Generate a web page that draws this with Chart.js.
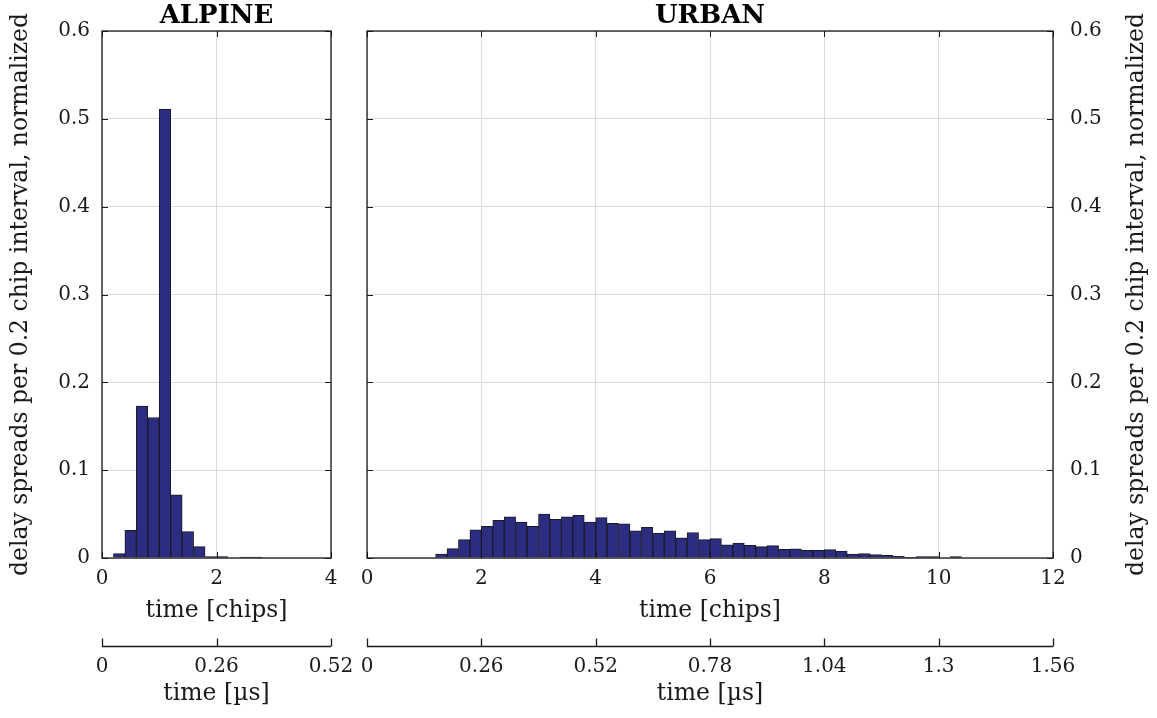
<!DOCTYPE html>
<html>
<head>
<meta charset="utf-8">
<script src="https://cdn.jsdelivr.net/npm/chart.js@4"></script>
<style>
  html, body { margin: 0; padding: 0; background: #ffffff; }
  #wrap { position: relative; width: 1157px; height: 718px; overflow: hidden; }
  canvas { position: absolute; left: 0; top: 0; }
</style>
</head>
<body>
<div id="wrap">
  <canvas id="alpine" width="1157" height="718"></canvas>
  <canvas id="urban" width="1157" height="718"></canvas>
</div>
<script>
// ---------------- DATA ----------------
const yTitle = 'delay spreads per 0.2 chip interval, normalized';
const yTicks = [0, 0.1, 0.2, 0.3, 0.4, 0.5, 0.6];
const yTickLabels = ['0', '0.1', '0.2', '0.3', '0.4', '0.5', '0.6'];

const alpineChipTicks = [0, 2, 4];
const alpineChipLabels = ['0', '2', '4'];
const alpineUsTicks = [0, 0.26, 0.52];
const alpineUsLabels = ['0', '0.26', '0.52'];

const urbanChipTicks = [0, 2, 4, 6, 8, 10, 12];
const urbanChipLabels = ['0', '2', '4', '6', '8', '10', '12'];
const urbanUsTicks = [0, 0.26, 0.52, 0.78, 1.04, 1.3, 1.56];
const urbanUsLabels = ['0', '0.26', '0.52', '0.78', '1.04', '1.3', '1.56'];

// bin centres (0.2 chip bins)
const alpineBins = [0.1, 0.3, 0.5, 0.7, 0.9, 1.1, 1.3, 1.5, 1.7, 1.9,
                    2.1, 2.3, 2.5, 2.7, 2.9, 3.1, 3.3, 3.5, 3.7, 3.9];
const alpineValues = [0, 0.005, 0.0315, 0.173, 0.160, 0.511, 0.072, 0.030, 0.013, 0.0015,
                      0.0015, 0, 0.001, 0.001, 0, 0, 0, 0, 0, 0];

const urbanBins = [0.1, 0.3, 0.5, 0.7, 0.9, 1.1, 1.3, 1.5, 1.7, 1.9,
                   2.1, 2.3, 2.5, 2.7, 2.9, 3.1, 3.3, 3.5, 3.7, 3.9,
                   4.1, 4.3, 4.5, 4.7, 4.9, 5.1, 5.3, 5.5, 5.7, 5.9,
                   6.1, 6.3, 6.5, 6.7, 6.9, 7.1, 7.3, 7.5, 7.7, 7.9,
                   8.1, 8.3, 8.5, 8.7, 8.9, 9.1, 9.3, 9.5, 9.7, 9.9,
                   10.1, 10.3, 10.5, 10.7, 10.9, 11.1, 11.3, 11.5, 11.7, 11.9];
const urbanValues = [0, 0, 0, 0, 0, 0, 0.0046, 0.0106, 0.021, 0.032,
                     0.036, 0.043, 0.047, 0.041, 0.036, 0.050, 0.044, 0.047, 0.0487, 0.041,
                     0.046, 0.0395, 0.0388, 0.031, 0.035, 0.0285, 0.031, 0.023, 0.029, 0.021,
                     0.022, 0.015, 0.017, 0.0145, 0.013, 0.014, 0.010, 0.0105, 0.0087, 0.0087,
                     0.0095, 0.008, 0.0046, 0.005, 0.0038, 0.003, 0.002, 0.0005, 0.0015, 0.0015,
                     0, 0.0015, 0, 0, 0, 0, 0, 0, 0, 0];

// ---------------- STYLE ----------------
const FONT = "'DejaVu Serif', serif";
const INK = '#1a1a1a';
const GRID = '#dcdcdc';
const BAR_FILL = '#2b2d80';
const BAR_EDGE = '#1a1a24';

Chart.defaults.font.family = FONT;
Chart.defaults.color = INK;

const tickFont = { family: FONT, size: 20 };
const titleFont = { family: FONT, size: 23.5 };

// draws the MATLAB-style box, inward ticks, the secondary time axis line and an optional right title
const matlabBox = {
  id: 'matlabBox',
  afterDatasetsDraw(chart) {
    const { ctx, chartArea } = chart;
    const { left, right, top, bottom } = chartArea;
    const sx = chart.scales.x, sy = chart.scales.y, s2 = chart.scales.x2;
    const tl = 6;
    ctx.save();
    ctx.strokeStyle = INK;
    ctx.lineWidth = 1.3;
    ctx.strokeRect(left, top, right - left, bottom - top);
    ctx.lineWidth = 1;
    ctx.beginPath();
    sx.ticks.forEach(t => {
      const p = Math.round(sx.getPixelForValue(t.value)) + 0.5;
      ctx.moveTo(p, bottom); ctx.lineTo(p, bottom - tl);
      ctx.moveTo(p, top); ctx.lineTo(p, top + tl);
    });
    sy.ticks.forEach(t => {
      const p = Math.round(sy.getPixelForValue(t.value)) + 0.5;
      ctx.moveTo(left, p); ctx.lineTo(left + tl, p);
      ctx.moveTo(right, p); ctx.lineTo(right - tl, p);
    });
    ctx.stroke();
    // secondary time axis (µs)
    const ly = Math.round(s2.top + 21) + 0.5;
    ctx.lineWidth = 1.3;
    ctx.beginPath();
    ctx.moveTo(left, ly); ctx.lineTo(right, ly);
    s2.ticks.forEach(t => {
      const p = Math.round(s2.getPixelForValue(t.value)) + 0.5;
      ctx.moveTo(p, ly); ctx.lineTo(p, ly - 8);
    });
    ctx.stroke();
    const opts = chart.options.plugins.matlabBox || {};
    if (opts.rightTitle) {
      ctx.fillStyle = INK;
      ctx.font = titleFont.size + 'px ' + FONT;
      ctx.textAlign = 'center';
      ctx.textBaseline = 'middle';
      ctx.translate(opts.rightTitleX, (top + bottom) / 2);
      ctx.rotate(-Math.PI / 2);
      ctx.fillText(opts.rightTitle, 0, 0);
    }
    ctx.restore();
  }
};

function makeChart(id, cfg) {
  const points = cfg.bins.map((b, i) => ({ x: b, y: cfg.values[i] }));
  return new Chart(document.getElementById(id), {
    type: 'bar',
    data: {
      datasets: [{
        data: points,
        backgroundColor: BAR_FILL,
        borderColor: BAR_EDGE,
        borderWidth: 1,
        barPercentage: 1,
        categoryPercentage: 1
      }]
    },
    options: {
      responsive: false,
      animation: false,
      devicePixelRatio: 1,
      layout: { padding: cfg.padding },
      plugins: {
        legend: { display: false },
        tooltip: { enabled: false },
        title: {
          display: true, text: cfg.title, fullSize: false, color: '#000',
          font: { family: FONT, size: 26, weight: 'bold', lineHeight: 1.0 },
          padding: { top: 3, bottom: 2 }
        },
        matlabBox: { rightTitle: cfg.rightTitle, rightTitleX: cfg.rightTitleX }
      },
      scales: {
        x: {
          type: 'linear', position: 'bottom', min: 0, max: cfg.xMax, offset: false, weight: 0,
          afterBuildTicks: s => { s.ticks = cfg.chipTicks.map(v => ({ value: v })); },
          ticks: {
            font: tickFont, color: INK, padding: 9, maxRotation: 0, autoSkip: false,
            callback: (v, i) => cfg.chipLabels[i]
          },
          grid: { color: GRID, lineWidth: 1, drawTicks: false, offset: false },
          border: { display: false },
          title: { display: true, text: 'time [chips]', font: titleFont, color: INK, padding: { top: 0, bottom: 0 } },
          afterFit: s => { s.height = 67; }
        },
        x2: {
          type: 'linear', position: 'bottom', min: 0, max: cfg.usMax, offset: false, weight: 1,
          afterBuildTicks: s => { s.ticks = cfg.usTicks.map(v => ({ value: v })); },
          ticks: {
            font: tickFont, color: INK, padding: 30, maxRotation: 0, autoSkip: false,
            callback: (v, i) => cfg.usLabels[i]
          },
          grid: { display: false, drawTicks: false },
          border: { display: false },
          title: { display: true, text: 'time [\u00b5s]', font: titleFont, color: INK, padding: { top: 0, bottom: 0 } },
          afterFit: s => { s.height = 83; }
        },
        y: {
          type: 'linear', position: cfg.yPos, min: 0, max: 0.6,
          afterBuildTicks: s => { s.ticks = yTicks.map(v => ({ value: v })); },
          ticks: {
            font: tickFont, color: INK, padding: cfg.yPad,
            callback: (v, i) => yTickLabels[i]
          },
          grid: { color: GRID, lineWidth: 1, drawTicks: false },
          border: { display: false },
          title: { display: cfg.leftTitle, text: yTitle, font: titleFont, color: INK, padding: { top: 7, bottom: 0 } },
          afterFit: s => { s.width = cfg.yWidth; }
        }
      }
    },
    plugins: [matlabBox]
  });
}

makeChart('alpine', {
  title: 'ALPINE', bins: alpineBins, values: alpineValues, xMax: 4, usMax: 0.52,
  chipTicks: alpineChipTicks, chipLabels: alpineChipLabels,
  usTicks: alpineUsTicks, usLabels: alpineUsLabels,
  padding: { left: 0, right: 826, top: 0, bottom: 10 },
  yPos: 'left', yPad: 12, yWidth: 102, leftTitle: true
});

makeChart('urban', {
  title: 'URBAN', bins: urbanBins, values: urbanValues, xMax: 12, usMax: 1.56,
  chipTicks: urbanChipTicks, chipLabels: urbanChipLabels,
  usTicks: urbanUsTicks, usLabels: urbanUsLabels,
  padding: { left: 367, right: 0, top: 0, bottom: 10 },
  yPos: 'right', yPad: 17, yWidth: 104, leftTitle: false,
  rightTitle: yTitle, rightTitleX: 1137
});
</script>
</body>
</html>
